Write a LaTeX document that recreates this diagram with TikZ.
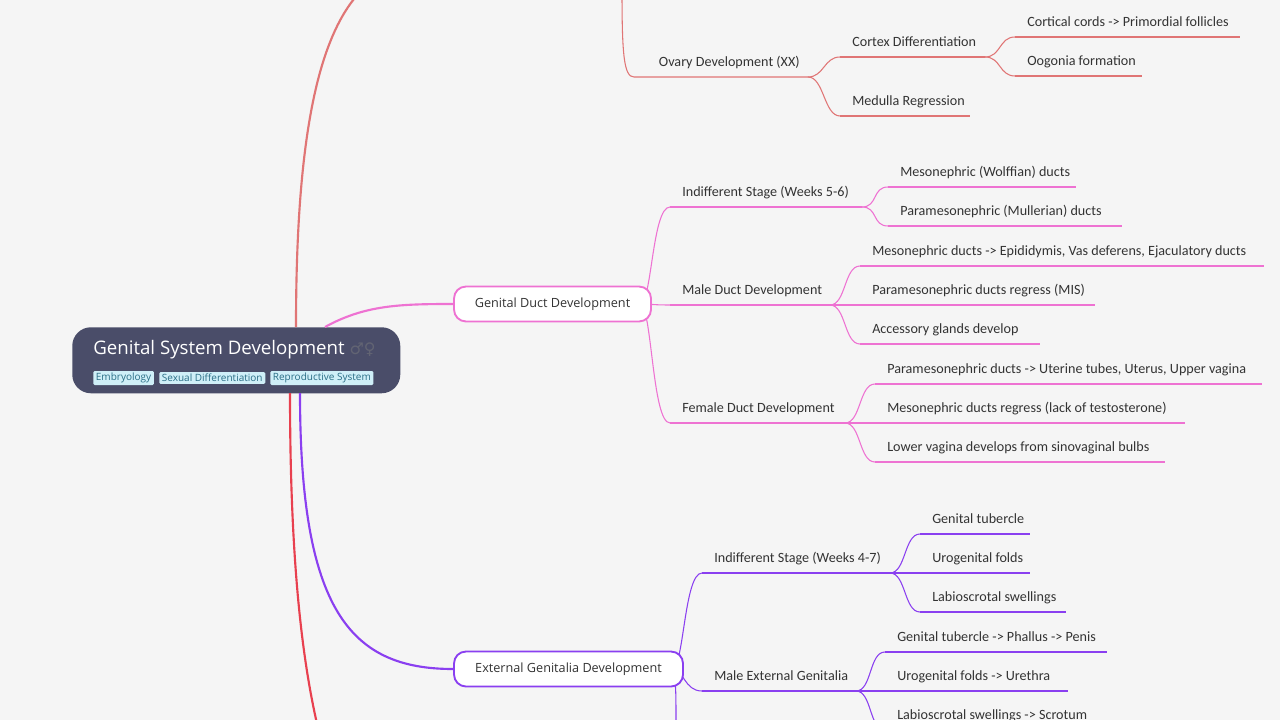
\documentclass[tikz,border=0pt]{standalone}
\usepackage{fontspec}
\setmainfont{Carlito}
\newfontfamily\rootfont{Open Sans}
\newfontfamily\symfont{DejaVu Sans}
\definecolor{bg}{HTML}{F5F5F5}
\definecolor{cA}{HTML}{E07575}
\definecolor{cB}{HTML}{EE72D2}
\definecolor{cC}{HTML}{8A3FF0}
\definecolor{cD}{HTML}{E8404F}
\definecolor{rootbg}{HTML}{4A4D69}
\definecolor{tagbg}{HTML}{CFEFF8}
\definecolor{tagfg}{HTML}{2A6E86}
\definecolor{txt}{HTML}{333333}
\newcommand{\leaf}[6]{%
  \coordinate (#1-s) at (#2,#4);
  \coordinate (#1-e) at (#3,#4);
  \node[leaftext,anchor=base west] (#1) at ([xshift=9pt,yshift=8pt]#1-s) {#5};
  \draw[#6,line width=0.8pt] (#1-s) -- (#1-e);
}
\newcommand{\link}[3]{\draw[#3,line width=0.8pt] (#1) .. controls +(16,0) and +(-16,0) .. (#2);}
\begin{document}
\begin{tikzpicture}[x=0.75pt,y=-0.75pt,
  leaftext/.style={font=\fontsize{10.6}{12}\selectfont,text=txt,inner sep=0pt},
  boxnode/.style={draw,line width=1.4pt,fill=white,rounded corners=9pt,minimum height=26.25pt,font=\rootfont\fontsize{9.5}{11}\selectfont,text=txt,inner xsep=10pt},
  tag/.style={fill=tagbg,text=tagfg,font=\rootfont\fontsize{7.5}{9}\selectfont,inner xsep=2pt,inner ysep=1.5pt,rounded corners=1pt}]
\useasboundingbox[fill=bg] (0,0) rectangle (1280,720);
% root
\node[fill=rootbg,rounded corners=14pt,minimum width=246pt,minimum height=49.5pt,anchor=north west] (root) at (72,327) {};
\node[anchor=base west,inner sep=0pt,text=white,font=\rootfont\fontsize{14}{16}\selectfont] (title) at (93,354) {Genital System Development \textcolor{rootbg!55!gray}{\symfont\fontsize{12}{14}\selectfont ♂♀}};
\node[tag,anchor=west] (t1) at (93,378) {Embryology};
\node[tag,anchor=west] (t2) at (159,378) {Sexual Differentiation};
\node[tag,anchor=west] (t3) at (270,378) {Reproductive System};
% trunks
\coordinate (topend) at (360,-8);
\coordinate (botend) at (318,728);
\draw[cA,line width=1.6pt] (296,327) .. controls (296,150) and (315,40) .. (topend);
\draw[cD,line width=1.6pt] (290,393) .. controls (290,560) and (302,660) .. (botend);
% top branch
\coordinate (ovtop) at (622,-8);
\coordinate (ovs) at (634,77);
\coordinate (ov-s) at (634,77);
\coordinate (ov-e) at (808,77);
\draw[cA,line width=0.8pt] (ovtop) .. controls (622,55) and (624,77) .. (ov-s) -- (ov-e);
\node[leaftext,anchor=base west] (ov) at ([xshift=18.5pt,yshift=8pt]ov-s) {Ovary Development (XX)};
\leaf{cx}{840}{985}{57}{Cortex Differentiation}{cA}
\leaf{md}{840}{970}{116}{Medulla Regression}{cA}
\leaf{cc}{1015}{1240}{37}{Cortical cords -> Primordial follicles}{cA}
\leaf{oo}{1015}{1142}{76}{Oogonia formation}{cA}
\link{ov-e}{cx-s}{cA}\link{ov-e}{md-s}{cA}
\link{cx-e}{cc-s}{cA}\link{cx-e}{oo-s}{cA}
% genital duct
\coordinate (gdx) at (640,304);
\leaf{is}{670}{862}{207}{Indifferent Stage (Weeks 5-6)}{cB}
\leaf{ma}{670}{830}{305}{Male Duct Development}{cB}
\leaf{fe}{670}{845}{423}{Female Duct Development}{cB}
\foreach \c in {is,ma,fe}{\draw[cB,line width=0.8pt] (gdx) .. controls +(12,0) and +(-18,0) .. (\c-s);}
\leaf{w1}{888}{1076}{187}{Mesonephric (Wolffian) ducts}{cB}
\leaf{w2}{888}{1122}{226}{Paramesonephric (Mullerian) ducts}{cB}
\link{is-e}{w1-s}{cB}\link{is-e}{w2-s}{cB}
\leaf{m1}{860}{1264}{266}{Mesonephric ducts -> Epididymis, Vas deferens, Ejaculatory ducts}{cB}
\leaf{m2}{860}{1095}{305}{Paramesonephric ducts regress (MIS)}{cB}
\leaf{m3}{860}{1040}{344}{Accessory glands develop}{cB}
\link{ma-e}{m1-s}{cB}\link{ma-e}{m2-s}{cB}\link{ma-e}{m3-s}{cB}
\leaf{f1}{875}{1262}{384}{Paramesonephric ducts -> Uterine tubes, Uterus, Upper vagina}{cB}
\leaf{f2}{875}{1185}{423}{Mesonephric ducts regress (lack of testosterone)}{cB}
\leaf{f3}{875}{1165}{462}{Lower vagina develops from sinovaginal bulbs}{cB}
\link{fe-e}{f1-s}{cB}\link{fe-e}{f2-s}{cB}\link{fe-e}{f3-s}{cB}
% external genitalia
\coordinate (egx) at (672,669);
\leaf{ie}{702}{890}{573}{Indifferent Stage (Weeks 4-7)}{cC}
\leaf{me}{702}{856}{691}{Male External Genitalia}{cC}
\coordinate (egbot) at (676,728);
\foreach \c in {ie,me}{\draw[cC,line width=0.8pt] (egx) .. controls +(12,0) and +(-18,0) .. (\c-s);}
\draw[cC,line width=0.8pt] (egx) .. controls +(4,15) .. (egbot);
\leaf{i1}{920}{1030}{534}{Genital tubercle}{cC}
\leaf{i2}{920}{1030}{573}{Urogenital folds}{cC}
\leaf{i3}{920}{1066}{612}{Labioscrotal swellings}{cC}
\link{ie-e}{i1-s}{cC}\link{ie-e}{i2-s}{cC}\link{ie-e}{i3-s}{cC}
\leaf{e1}{885}{1107}{652}{Genital tubercle -> Phallus -> Penis}{cC}
\leaf{e2}{885}{1068}{691}{Urogenital folds -> Urethra}{cC}
\leaf{e3}{885}{1110}{730}{Labioscrotal swellings -> Scrotum}{cC}
\link{me-e}{e1-s}{cC}\link{me-e}{e2-s}{cC}\link{me-e}{e3-s}{cC}
% boxes on top
\node[boxnode,draw=cB,minimum width=147.75pt] (gd) at (552.5,304) {Genital Duct Development};
\node[boxnode,draw=cC,minimum width=171.75pt] (eg) at (568.5,669) {External Genitalia Development};
\draw[cB,line width=1.6pt] (325,327) .. controls (365,305) and (400,304) .. (gd.west);
\draw[cC,line width=1.6pt] (300,393) .. controls (300,610) and (350,669) .. (eg.west);
\end{tikzpicture}
\end{document}
